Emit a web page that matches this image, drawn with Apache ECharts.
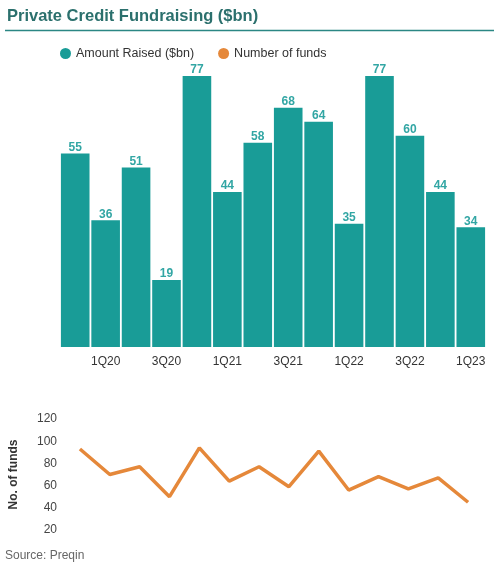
<!DOCTYPE html>
<html>
<head>
<meta charset="utf-8">
<script src="https://cdn.jsdelivr.net/npm/echarts@6/dist/echarts.min.js"></script>
<style>html,body{margin:0;padding:0;background:#fff;}#c{width:500px;height:564px;}</style>
</head>
<body>
<div id="c"></div>
<script>
const categories = ['4Q19','1Q20','2Q20','3Q20','4Q20','1Q21','2Q21','3Q21','4Q21','1Q22','2Q22','3Q22','4Q22','1Q23'];
const amountRaised = [55, 36, 51, 19, 77, 44, 58, 68, 64, 35, 77, 60, 44, 34];
const numberOfFunds = [93, 70, 77, 50, 94, 64, 77, 59, 91, 56, 68, 57, 67, 45];
const fundTicks = [20, 40, 60, 80, 100, 120];

const chart = echarts.init(document.getElementById('c'), null, {renderer: 'canvas'});
const teal = '#199c97';
const orange = '#e5883a';
chart.setOption({
  animation: false,
  backgroundColor: '#fff',
  textStyle: {fontFamily: 'Liberation Sans, Arial, sans-serif'},
  title: [
    {text: 'Private Credit Fundraising ($bn)', left: 2, top: 3,
     textStyle: {fontSize: 16.5, fontWeight: 'bold', color: '#2b706d'}},
    {text: 'Source: Preqin', left: 0, top: 545,
     textStyle: {fontSize: 12, fontWeight: 'normal', color: '#666'}}
  ],
  graphic: [
    {type: 'line', shape: {x1: 5, y1: 30.5, x2: 494, y2: 30.5},
     style: {stroke: '#2b8784', lineWidth: 1.5}}
  ],
  legend: {
    left: 55, top: 42, icon: 'circle', itemWidth: 11, itemHeight: 11, itemGap: 24,
    textStyle: {fontSize: 12.5, color: '#333'},
    data: ['Amount Raised ($bn)', 'Number of funds']
  },
  grid: [
    {left: 60, right: 14, top: 65.4, bottom: 217},
    {left: 65, right: 17, top: 419, bottom: 34}
  ],
  xAxis: [
    {type: 'category', gridIndex: 0, data: categories,
     axisLine: {show: false}, axisTick: {show: false},
     axisLabel: {interval: (i) => i % 2 === 1, color: '#333', fontSize: 12, margin: 9}},
    {type: 'category', gridIndex: 1, data: categories, show: false}
  ],
  yAxis: [
    {type: 'value', gridIndex: 0, min: 0, max: 80, show: false},
    {type: 'value', gridIndex: 1, min: 20, max: 120, interval: 20,
     axisLine: {show: false}, axisTick: {show: false}, splitLine: {show: false},
     axisLabel: {color: '#444', fontSize: 12, margin: 8},
     name: 'No. of funds', nameLocation: 'middle', nameRotate: 90, nameGap: 45,
     nameTextStyle: {fontSize: 12, fontWeight: 'bold', color: '#333'}}
  ],
  series: [
    {name: 'Amount Raised ($bn)', type: 'bar', xAxisIndex: 0, yAxisIndex: 0,
     data: amountRaised, barCategoryGap: '6%', itemStyle: {color: teal},
     label: {show: true, position: 'top', distance: 0, color: '#32a6a4',
             fontWeight: 'bold', fontSize: 12}},
    {name: 'Number of funds', type: 'line', xAxisIndex: 1, yAxisIndex: 1,
     data: numberOfFunds, symbol: 'none', itemStyle: {color: orange},
     lineStyle: {color: orange, width: 3.5}}
  ]
});
</script>
</body>
</html>
